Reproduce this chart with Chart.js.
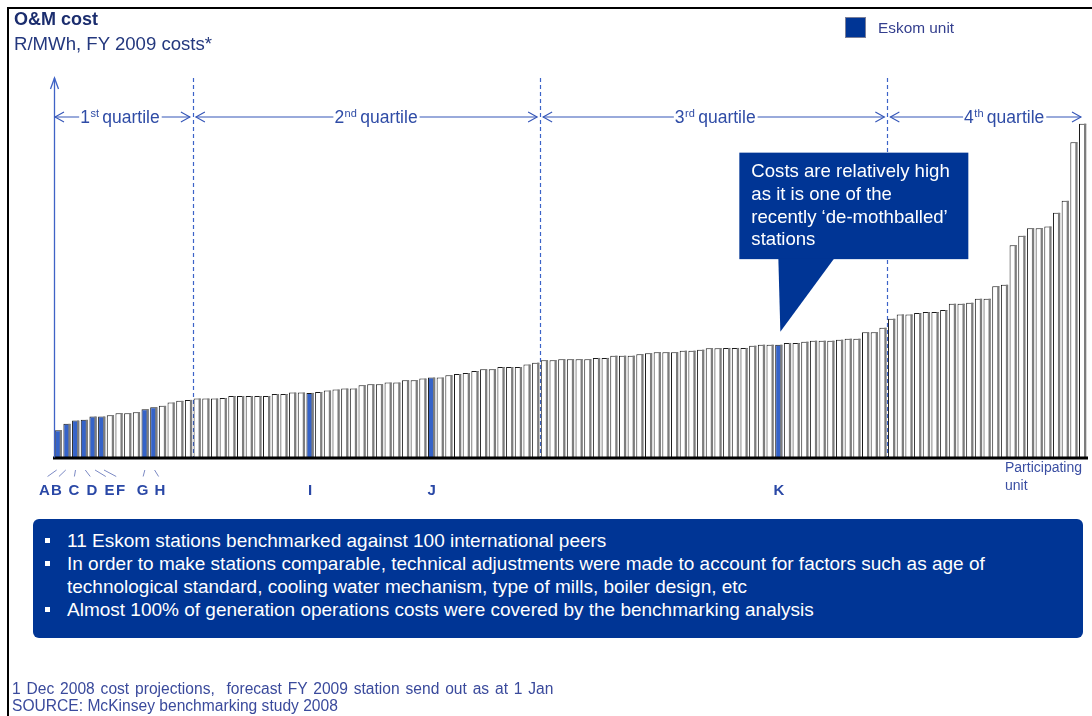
<!DOCTYPE html>
<html>
<head>
<meta charset="utf-8">
<title>O&amp;M cost benchmark</title>
<script src="https://cdn.jsdelivr.net/npm/chart.js@4.4.1/dist/chart.umd.min.js"></script>
<style>
  html, body { margin: 0; padding: 0; background: #fff; }
  #page { position: relative; width: 1092px; height: 716px; overflow: hidden;
          font-family: "Liberation Sans", Arial, sans-serif; }
  #frame { position: absolute; left: 7px; top: 7px; width: 1200px; height: 800px;
           border-left: 2.5px solid #000; border-top: 2.5px solid #000; }
  #chart { position: absolute; left: 0; top: 0; }
  .title { position: absolute; left: 14px; top: 9px; font-weight: bold; font-size: 18px; color: #1b2d6e; }
  .subtitle { position: absolute; left: 14px; top: 33px; font-size: 18.6px; color: #24387e; }
  .legend { position: absolute; left: 845px; top: 17px; height: 21px; display: flex; align-items: center; }
  .legend .swatch { width: 19px; height: 19px; background: #003595; border: 1px solid #7a7f99; }
  .legend span { margin-left: 12px; font-size: 15.4px; color: #343f8e; }
  .notes { position: absolute; left: 33px; top: 519px; width: 1050px; height: 119px;
           background: #003595; border-radius: 6px; color: #fff; font-size: 19px; }
  .notes .item { position: absolute; left: 34px; line-height: 23px; white-space: nowrap; }
  .notes .item::before { content: ""; position: absolute; left: -22px; top: 9px; width: 5px; height: 5px; background: #fff; }
  .foot { position: absolute; left: 12px; font-size: 15.6px; color: #3a4a9c; white-space: nowrap; }
</style>
</head>
<body>
<div id="page">
  <div id="frame"></div>
  <canvas id="chart" width="1092" height="716"></canvas>
  <div class="title">O&amp;M cost</div>
  <div class="subtitle">R/MWh, FY 2009 costs*</div>
  <div class="legend"><div class="swatch"></div><span>Eskom unit</span></div>
  <div class="notes">
    <div class="item" style="top:10px">11 Eskom stations benchmarked against 100 international peers</div>
    <div class="item" style="top:33px">In order to make stations comparable, technical adjustments were made to account for factors such as age of<br>technological standard, cooling water mechanism, type of mills, boiler design, etc</div>
    <div class="item" style="top:79px">Almost 100% of generation operations costs were covered by the benchmarking analysis</div>
  </div>
  <div class="foot" style="top:680px; word-spacing:1.5px">1 Dec 2008 cost projections,&nbsp; forecast FY 2009 station send out as at 1 Jan</div>
  <div class="foot" style="top:697px">SOURCE: McKinsey benchmarking study 2008</div>
</div>

<script>
// O&M cost per participating unit, ranked from lowest to highest
const unitCost = [
  27.4, 33.7, 37.0, 37.7, 41.0, 41.0, 42.4, 44.4, 44.4, 45.4,
  48.4, 50.4, 51.7, 55.0, 56.7, 57.7, 59.0, 59.0, 59.0, 59.6,
  61.6, 61.6, 61.6, 61.6, 61.6, 63.6, 63.6, 65.0, 65.0, 64.7,
  65.6, 67.0, 68.0, 69.0, 69.0, 72.3, 73.3, 73.3, 75.0, 75.0,
  77.3, 77.3, 79.0, 80.0, 80.0, 82.3, 83.6, 84.6, 86.6, 88.3,
  88.3, 90.6, 90.6, 90.6, 93.0, 95.0, 97.4, 97.4, 98.4, 98.4,
  98.4, 98.4, 99.7, 99.7, 102.0, 102.0, 102.0, 103.4, 104.4, 105.4,
  105.4, 105.4, 107.0, 107.0, 108.0, 109.4, 109.4, 109.7, 109.7, 109.7,
  112.0, 113.0, 113.0, 113.0, 114.7, 114.7, 116.0, 117.0, 117.0, 117.0,
  118.0, 119.0, 119.0, 125.3, 125.3, 130.0, 139.0, 143.3, 143.3, 144.6,
  145.6, 145.6, 147.6, 154.0, 154.0, 155.0, 159.0, 159.0, 171.6, 173.0,
  212.6, 222.0, 229.6, 229.6, 231.3, 245.0, 257.0, 315.6, 334.3
];

// Eskom stations and their rank position in the list above
const eskomUnits = ['A', 'B', 'C', 'D', 'E', 'F', 'G', 'H', 'I', 'J', 'K'];
const eskomRank  = [0, 1, 2, 3, 4, 5, 10, 11, 29, 43, 83];

// First rank of each quartile
const quartileNames = ['1st', '2nd', '3rd', '4th'];
const quartileStart = [0, 16, 56, 96];

const calloutLines = ['Costs are relatively high', 'as it is one of the',
                      'recently \u2018de-mothballed\u2019', 'stations'];
const calloutUnit = 'K';

// Category labels: Eskom letter, otherwise a peer number
let peerNo = 0;
const unitLabels = unitCost.map((_, i) => {
  const k = eskomRank.indexOf(i);
  return k >= 0 ? eskomUnits[k] : 'Peer ' + (++peerNo);
});

// ---- drawing layout (pixels) ----
const FONT = '"Liberation Sans", Arial, sans-serif';
const BLUE_LINE = '#3556b8';
const TEXT_BLUE = '#2f4ca6';
const letterShift = { A: -14, B: -10.5, C: -1.7, D: 7.6, E: 16.5, F: 18.8, G: -2.6, H: 6.2, I: 0, J: 0, K: 0 };
const quartileTextShift = [-2, 10, 2, 19];

function chevron(ctx, x, y, dir, w, h) {
  ctx.beginPath();
  ctx.moveTo(x - dir * w, y - h);
  ctx.lineTo(x, y);
  ctx.lineTo(x - dir * w, y + h);
  ctx.stroke();
}

const decorations = {
  id: 'decorations',
  beforeDatasetsDraw(chart) {
    const { ctx, chartArea, scales: { x } } = chart;
    // dashed quartile separators
    ctx.save();
    ctx.strokeStyle = '#3c63c8';
    ctx.lineWidth = 1.2;
    ctx.setLineDash([4, 3]);
    quartileStart.slice(1).forEach(s => {
      const px = Math.round((x.getPixelForValue(s - 1) + x.getPixelForValue(s)) / 2) + 0.5;
      ctx.beginPath();
      ctx.moveTo(px, chartArea.top);
      ctx.lineTo(px, chartArea.bottom);
      ctx.stroke();
    });
    ctx.restore();
  },
  afterDatasetsDraw(chart) {
    const { ctx } = chart;
    const meta = chart.getDatasetMeta(0);
    ctx.save();
    ctx.fillStyle = '#7d7d7d';
    meta.data.forEach(el => {
      const p = el.getProps(['x', 'y', 'base', 'width'], true);
      const right = p.x + p.width / 2;
      ctx.fillRect(right - 2.3, p.y, 2.3, p.base - p.y);
    });
    ctx.restore();
  },
  afterDraw(chart) {
    const { ctx, chartArea } = chart;
    const meta = chart.getDatasetMeta(0);
    const x = chart.scales.x;
    ctx.save();

    // category axis
    ctx.strokeStyle = '#000';
    ctx.lineWidth = 3;
    ctx.beginPath();
    ctx.moveTo(chartArea.left - 1, chartArea.bottom + 0.5);
    ctx.lineTo(chartArea.right + 1, chartArea.bottom + 0.5);
    ctx.stroke();

    // value axis with arrow
    ctx.strokeStyle = '#3f63c6';
    ctx.lineWidth = 1.3;
    ctx.beginPath();
    ctx.moveTo(chartArea.left + 0.5, chartArea.bottom);
    ctx.lineTo(chartArea.left + 0.5, chartArea.top);
    ctx.stroke();
    ctx.beginPath();
    ctx.moveTo(chartArea.left - 3.5, chartArea.top + 11);
    ctx.lineTo(chartArea.left + 0.5, chartArea.top);
    ctx.lineTo(chartArea.left + 4.5, chartArea.top + 11);
    ctx.stroke();

    // quartile spans
    const qy = chartArea.top + 39;
    const bounds = quartileStart.map((s, i) =>
      i === 0 ? chartArea.left + 1
              : (x.getPixelForValue(s - 1) + x.getPixelForValue(s)) / 2);
    bounds.push(chartArea.right - 6);
    ctx.strokeStyle = BLUE_LINE;
    ctx.fillStyle = TEXT_BLUE;
    ctx.lineWidth = 1.1;
    ctx.textBaseline = 'alphabetic';
    quartileNames.forEach((name, i) => {
      const x1 = bounds[i] + (i === 0 ? 0 : 3);
      const x2 = bounds[i + 1] - (i === quartileNames.length - 1 ? 0 : 3);
      const num = name.slice(0, 1), sup = name.slice(1), word = ' quartile';
      ctx.font = '17.5px ' + FONT;
      const wNum = ctx.measureText(num).width, wWord = ctx.measureText(word).width;
      ctx.font = '11px ' + FONT;
      const wSup = ctx.measureText(sup).width;
      const w = wNum + wSup + wWord;
      const cx = (x1 + x2) / 2 + quartileTextShift[i];
      const tx = cx - w / 2;
      ctx.beginPath();
      ctx.moveTo(x1, qy); ctx.lineTo(tx - 1, qy);
      ctx.moveTo(tx + w + 1, qy); ctx.lineTo(x2, qy);
      ctx.stroke();
      chevron(ctx, x1, qy, -1, 9, 5);
      chevron(ctx, x2, qy, 1, 9, 5);
      ctx.font = '17.5px ' + FONT;
      ctx.fillText(num, tx, qy + 6);
      ctx.font = '11px ' + FONT;
      ctx.fillText(sup, tx + wNum + 0.5, qy - 0.5);
      ctx.font = '17.5px ' + FONT;
      ctx.fillText(word, tx + wNum + wSup - 1, qy + 6);
    });

    // station letters under the axis
    ctx.font = 'bold 15px ' + FONT;
    ctx.textAlign = 'center';
    ctx.textBaseline = 'middle';
    eskomUnits.forEach((u, k) => {
      const bx = meta.data[eskomRank[k]].x;
      const d = letterShift[u];
      if (d !== 0) {
        ctx.strokeStyle = '#7b89c4';
        ctx.lineWidth = 1;
        ctx.beginPath();
        ctx.moveTo(bx + 0.12 * d, chartArea.bottom + 12.5);
        ctx.lineTo(bx + 0.77 * d, chartArea.bottom + 19);
        ctx.stroke();
      }
      ctx.fillStyle = '#2a48a6';
      ctx.fillText(u, bx + d, chartArea.bottom + 33);
    });

    // axis caption
    ctx.font = '14px ' + FONT;
    ctx.textAlign = 'left';
    ctx.fillStyle = '#3a4ea2';
    ctx.fillText('Participating', chartArea.right - 82, chartArea.bottom + 10.5);
    ctx.fillText('unit', chartArea.right - 82, chartArea.bottom + 29);

    // callout on the highlighted station
    const kEl = meta.data[eskomRank[eskomUnits.indexOf(calloutUnit)]];
    const tipX = kEl.x + 1.5, tipY = kEl.y - 13;
    const bl = tipX - 41, br = tipX + 188, bt = tipY - 179, bb = tipY - 72.5;
    ctx.fillStyle = '#003595';
    ctx.fillRect(bl, bt, br - bl, bb - bt);
    ctx.beginPath();
    ctx.moveTo(tipX - 2, bb - 1);
    ctx.lineTo(tipX + 54, bb - 1);
    ctx.lineTo(tipX, tipY);
    ctx.closePath();
    ctx.fill();
    ctx.fillStyle = '#fff';
    ctx.font = '18.6px ' + FONT;
    ctx.textBaseline = 'middle';
    calloutLines.forEach((line, i) => ctx.fillText(line, bl + 12, bt + 19.5 + i * 22.7));

    ctx.restore();
  }
};

new Chart(document.getElementById('chart'), {
  type: 'bar',
  data: {
    labels: unitLabels,
    datasets: [{
      label: 'O&M cost',
      data: unitCost,
      backgroundColor: unitLabels.map(l => eskomUnits.includes(l) ? '#3563c9' : '#ffffff'),
      borderColor: '#1a1a1a',
      borderWidth: { top: 1, left: 1, right: 0, bottom: 0 },
      borderSkipped: 'start',
      barPercentage: 0.84,
      categoryPercentage: 1.0
    }]
  },
  options: {
    responsive: false,
    animation: false,
    layout: { padding: { left: 54, right: 5, top: 78, bottom: 258.5 } },
    plugins: { legend: { display: false }, tooltip: { enabled: false } },
    scales: {
      x: { display: false, grid: { display: false } },
      y: { display: false, min: 0, max: 380 }
    }
  },
  plugins: [decorations]
});
</script>
</body>
</html>
